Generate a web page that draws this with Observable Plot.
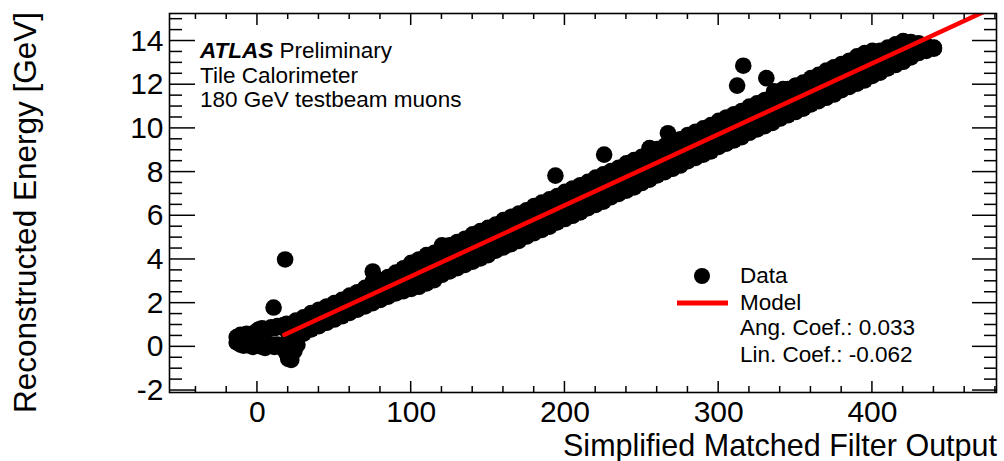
<!DOCTYPE html>
<html><head><meta charset="utf-8">
<script src="https://cdn.jsdelivr.net/npm/d3@7"></script>
<script src="https://cdn.jsdelivr.net/npm/@observablehq/plot@0.6"></script>
<style>
html,body{margin:0;padding:0;background:#fff;}
#chart svg{display:block;}
</style></head><body><div id="chart"></div>
<script>
// ---- tick labels ----
const xTickLabels = [0, 100, 200, 300, 400];
const yTickLabels = [-2, 0, 2, 4, 6, 8, 10, 12, 14];

// ---- data: main band ----
const bandX = [20,25,30,35,40,45,50,55,60,65,70,75,80,85,90,95,100,105,110,115,120,125,130,135,140,145,150,155,160,165,170,175,180,185,190,195,200,205,210,215,220,225,230,235,240,245,250,255,260,265,270,275,280,285,290,295,300,305,310,315,320,325,330,335,340,345,350,355,360,365,370,375,380,385,390,395,400,405,410,415,420,425,430,435,440];
const bandUpper = [1.0,1.2,1.35,1.55,1.7,1.85,2.0,2.15,2.35,2.5,2.7,3.0,3.05,3.2,3.4,3.6,3.85,4.0,4.2,4.3,4.5,4.65,4.8,4.95,5.15,5.3,5.45,5.6,5.8,5.95,6.1,6.25,6.45,6.6,6.75,6.9,7.1,7.25,7.4,7.55,7.75,7.9,8.05,8.2,8.4,8.55,8.7,9.0,9.05,9.2,9.35,9.5,9.7,9.85,10.0,10.15,10.35,10.5,10.65,10.8,11.0,11.15,11.3,11.45,11.65,11.8,11.95,12.1,12.3,12.45,12.65,12.8,12.95,13.1,13.3,13.45,13.55,13.55,13.7,13.85,14.0,13.95,13.9,13.8,13.7];
const bandMid = [0.65,0.8,0.95,1.1,1.3,1.45,1.6,1.75,1.95,2.1,2.25,2.4,2.6,2.75,2.9,3.05,3.25,3.4,3.55,3.7,3.9,4.05,4.2,4.35,4.55,4.7,4.85,5.0,5.2,5.35,5.5,5.65,5.85,6.0,6.15,6.3,6.5,6.65,6.8,6.95,7.15,7.3,7.45,7.6,7.8,7.95,8.1,8.25,8.45,8.6,8.75,8.9,9.1,9.25,9.4,9.55,9.75,9.9,10.05,10.2,10.4,10.55,10.7,10.85,11.05,11.2,11.35,11.5,11.7,11.85,12.0,12.15,12.35,12.5,12.65,12.8,13.0,13.15,13.3,13.45,13.6,13.65,13.7,13.7,13.68];
const bandLower = [0.25,0.4,0.6,0.8,0.95,1.1,1.25,1.4,1.55,1.7,1.85,2.0,2.15,2.3,2.45,2.55,2.65,2.75,2.9,3.05,3.3,3.45,3.6,3.75,3.9,4.05,4.2,4.4,4.55,4.7,4.85,5.05,5.2,5.35,5.5,5.7,5.85,6.0,6.15,6.35,6.5,6.65,6.85,7.0,7.15,7.3,7.5,7.65,7.85,8.0,8.15,8.3,8.5,8.65,8.8,8.95,9.15,9.3,9.45,9.6,9.8,9.95,10.1,10.25,10.45,10.6,10.75,10.9,11.1,11.25,11.4,11.55,11.75,11.9,12.05,12.2,12.4,12.55,12.75,12.9,13.05,13.25,13.45,13.55,13.65];

// ---- data: low-energy blob ----
const blobX = [-13.5,-11,-9,-7,-5,-3,-1,1,3,5,7,9,11,13,15,17,19];
const blobUpper = [0.45,0.55,0.5,0.6,0.55,0.6,0.7,0.8,0.85,0.75,0.8,0.9,0.85,0.95,0.9,1.0,1.05];
const blobLower = [0.2,0.1,0.05,0.1,0.05,0.0,0.05,0.1,0.0,-0.05,0.05,0.1,0.0,0.1,0.05,-0.1,-0.3];

// ---- data: isolated points and bumps ----
const extraX = [20, 22, 24, 26, 10.5, 18, 75, 120, 193.8, 225.5, 255, 267, 312, 316, 331, 336, 342, 350];
const extraY = [-0.55, -0.6, -0.2, 0.1, 1.8, 4.0, 3.45, 4.65, 7.84, 8.8, 9.1, 9.78, 11.96, 12.87, 12.3, 11.7, 11.8, 11.95];

// ---- model line (endpoints) ----
const modelX = [17.5, 475];
const modelY = [0.55, 15.42];

(function () {
  const points = [];
  bandX.forEach((x, i) => {
    points.push({x, y: bandUpper[i]});
    points.push({x, y: bandMid[i]});
    points.push({x, y: bandLower[i]});
  });
  blobX.forEach((x, i) => {
    points.push({x, y: blobUpper[i]});
    points.push({x, y: blobLower[i]});
  });
  extraX.forEach((x, i) => points.push({x, y: extraY[i]}));
  const model = modelX.map((x, i) => ({x, y: modelY[i]}));

  const FONT = "'Liberation Sans', Arial, Helvetica, sans-serif";
  const W = 1004, H = 461, mL = 169, mR = 8, mT = 13, mB = 69;

  const plot = Plot.plot({
    width: W, height: H,
    marginLeft: mL, marginRight: mR, marginTop: mT, marginBottom: mB,
    style: {fontFamily: FONT, background: "white", color: "black", overflow: "visible"},
    x: {domain: [-57.2, 480.7]},
    y: {domain: [-2.09, 15.26]},
    marks: [
      Plot.dot(points, {x: "x", y: "y", r: 8.3, fill: "black", stroke: null}),
      Plot.line(model, {x: "x", y: "y", stroke: "#ff0000", strokeWidth: 4.5, clip: true}),
      Plot.frame({stroke: "black", strokeWidth: 1.6}),
      Plot.axisX({ticks: xTickLabels, tickSize: 0, tickPadding: 8, fontSize: 30, label: null, tickFormat: d => String(d)}),
      Plot.axisY({ticks: yTickLabels, tickSize: 0, tickPadding: 6, fontSize: 30, label: null, tickFormat: d => String(d)})
    ]
  });
  document.getElementById("chart").appendChild(plot);

  const sx = plot.scale("x"), sy = plot.scale("y");
  const svg = d3.select(plot);
  const fLeft = mL, fRight = W - mR, fTop = mT, fBottom = H - mB;

  const tg = svg.append("g").attr("stroke", "black").attr("stroke-width", 1.5);
  const xMinor = d3.range(-40, 481, 20).filter(v => v % 100 !== 0);
  function xt(v, lb, lt) {
    const px = sx.apply(v);
    tg.append("line").attr("x1", px).attr("x2", px).attr("y1", fBottom).attr("y2", fBottom - lb);
    tg.append("line").attr("x1", px).attr("x2", px).attr("y1", fTop).attr("y2", fTop + lt);
  }
  xTickLabels.forEach(v => xt(v, 11, 12));
  xMinor.forEach(v => xt(v, 6, 6));
  const yMinor = d3.range(-2, 15.26, 0.5).filter(v => Math.abs(v % 2) > 1e-9);
  function yt(v, ll, lr) {
    const py = sy.apply(v);
    tg.append("line").attr("y1", py).attr("y2", py).attr("x1", fLeft).attr("x2", fLeft + ll);
    tg.append("line").attr("y1", py).attr("y2", py).attr("x1", fRight).attr("x2", fRight - lr);
  }
  yTickLabels.forEach(v => yt(v, 26, 24));
  yMinor.forEach(v => yt(v, 13, 12));

  function txt(x, y, size, anchor) {
    return svg.append("text").attr("x", x).attr("y", y).attr("text-anchor", anchor)
      .attr("font-family", FONT).attr("font-size", size).attr("fill", "black");
  }
  txt(997, 456, 30.5, "end").text("Simplified Matched Filter Output");
  svg.append("text").attr("transform", "translate(36,12) rotate(-90)").attr("text-anchor", "end")
    .attr("font-family", FONT).attr("font-size", 31.5).attr("fill", "black")
    .text("Reconstructed Energy [GeV]");

  const fs = 22.5;
  const t1 = txt(200, 58, fs, "start");
  t1.append("tspan").attr("font-weight", "bold").attr("font-style", "italic").text("ATLAS");
  t1.append("tspan").text(" Preliminary");
  txt(200, 83, fs, "start").text("Tile Calorimeter");
  txt(200, 107, fs, "start").text("180 GeV testbeam muons");

  svg.append("circle").attr("cx", 702).attr("cy", 276).attr("r", 8).attr("fill", "black");
  svg.append("line").attr("x1", 677).attr("x2", 728).attr("y1", 303).attr("y2", 303).attr("stroke", "#ff0000").attr("stroke-width", 5);
  [["Data", 283], ["Model", 310], ["Ang. Coef.: 0.033", 335], ["Lin. Coef.: -0.062", 362]].forEach(([s, y]) => {
    txt(740, y, fs, "start").text(s);
  });
})();
</script></body></html>
